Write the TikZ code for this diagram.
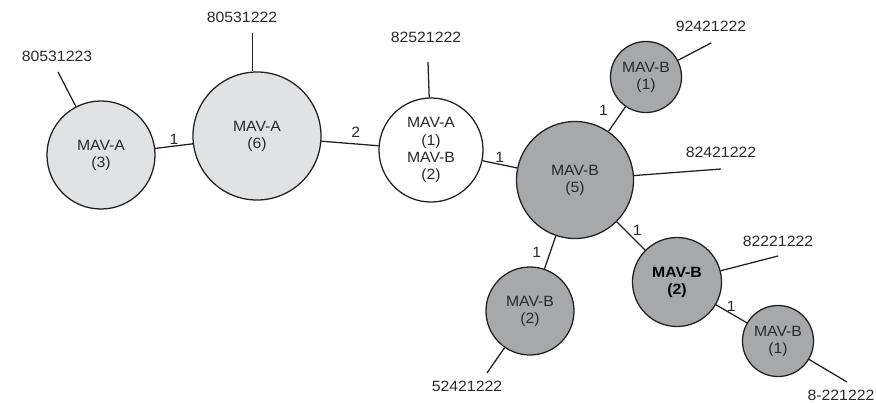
\documentclass[tikz,border=0pt]{standalone}
\usepackage{fontspec}
\setmainfont{Liberation Sans}[FakeStretch=1.06]
\usepackage{tikz}
\usetikzlibrary{positioning}
\definecolor{lightfill}{HTML}{E1E2E4}
\definecolor{darkfill}{HTML}{A7A8AA}
\definecolor{txt}{HTML}{2A2A2A}
\definecolor{ink}{HTML}{231F20}

\begin{document}
\begin{tikzpicture}[x=0.025cm,y=-0.025cm,
  hap/.style={circle,draw=ink,line width=0.9pt,inner sep=0pt,align=center,text=txt,font=\fontsize{10.6}{12.2}\selectfont},
  mava/.style={hap,fill=lightfill},
  mavb/.style={hap,fill=darkfill},
  mixed/.style={hap,fill=white},
  edge/.style={draw=ink,line width=0.9pt},
  elabel/.style={inner sep=1pt,text=txt,font=\fontsize{10.6}{12}\selectfont},
  iso/.style={inner sep=0pt,text=txt,font=\fontsize{10.6}{12}\selectfont}]

\useasboundingbox (0,0) rectangle (876,402);

% haplotype circles
\node(a3)[mava,minimum size=2.7cm] at (101,155) {MAV-A\\(3)};
\node(a6)[mava,minimum size=3.2cm] at (257,136) {MAV-A\\(6)};
\node(ab)[mixed,minimum size=2.6cm] at (431,150) {MAV-A\\(1)\\MAV-B\\(2)};
\node(b5)[mavb,minimum size=2.925cm] at (575,180) {MAV-B\\(5)};
\node(b1a)[mavb,minimum size=1.775cm] at (646,77) {MAV-B\\(1)};
\node(b2a)[mavb,minimum size=2.2cm] at (530,311) {MAV-B\\(2)};
\node(b2b)[mavb,minimum size=2.225cm,text=black,font=\fontsize{10.6}{12.2}\selectfont\bfseries] at (677,282) {MAV-B\\(2)};
\node(b1b)[mavb,minimum size=1.775cm] at (778,341) {MAV-B\\(1)};

% isolate names
\node(l1)[iso] at (57,56) {80531223};
\node(l2)[iso] at (242,17) {80531222};
\node(l3)[iso] at (426,37) {82521222};
\node(l4)[iso] at (711,26) {92421222};
\node(l5)[iso] at (721,152) {82421222};
\node(l6)[iso] at (778,241) {82221222};
\node(l7)[iso] at (841,395) {8-221222};
\node(l8)[iso] at (467,386) {52421222};

\coordinate(e1) at (58,72);
\coordinate(e2) at (252.5,33);
\coordinate(e3) at (428,62);
\coordinate(e4) at (711,43);
\coordinate(e5) at (721,169);
\coordinate(e6) at (778,256);
\coordinate(e7) at (847,382);
\coordinate(e8) at (487,373);

% mutational steps
\draw [edge] (a3) -- node[elabel,above]{1} (a6);
\draw [edge] (a6) -- node[elabel,pos=0.6,above=3pt]{2} (ab);
\draw [edge] (ab) -- node[elabel,above]{1} (b5);
\draw [edge] (b5) -- node[elabel,above left=1pt and 5pt]{1} (b1a);
\draw [edge] (b5) -- node[elabel,left=5pt]{1} (b2a);
\draw [edge] (b5) -- node[elabel,above right=-1pt and 0pt]{1} (b2b);
\draw [edge] (b2b) -- node[elabel,above]{1} (b1b);

% pendant lines
\draw [edge] (e1) -- (a3);
\draw [edge] (e2) -- (e2 |- a6.north);
\draw [edge] (e3) -- (ab);
\draw [edge] (e4) -- (b1a);
\draw [edge] (e5) -- (b5);
\draw [edge] (e6) -- (b2b);
\draw [edge] (e7) -- (b1b);
\draw [edge] (e8) -- (b2a);
\end{tikzpicture}
\end{document}
